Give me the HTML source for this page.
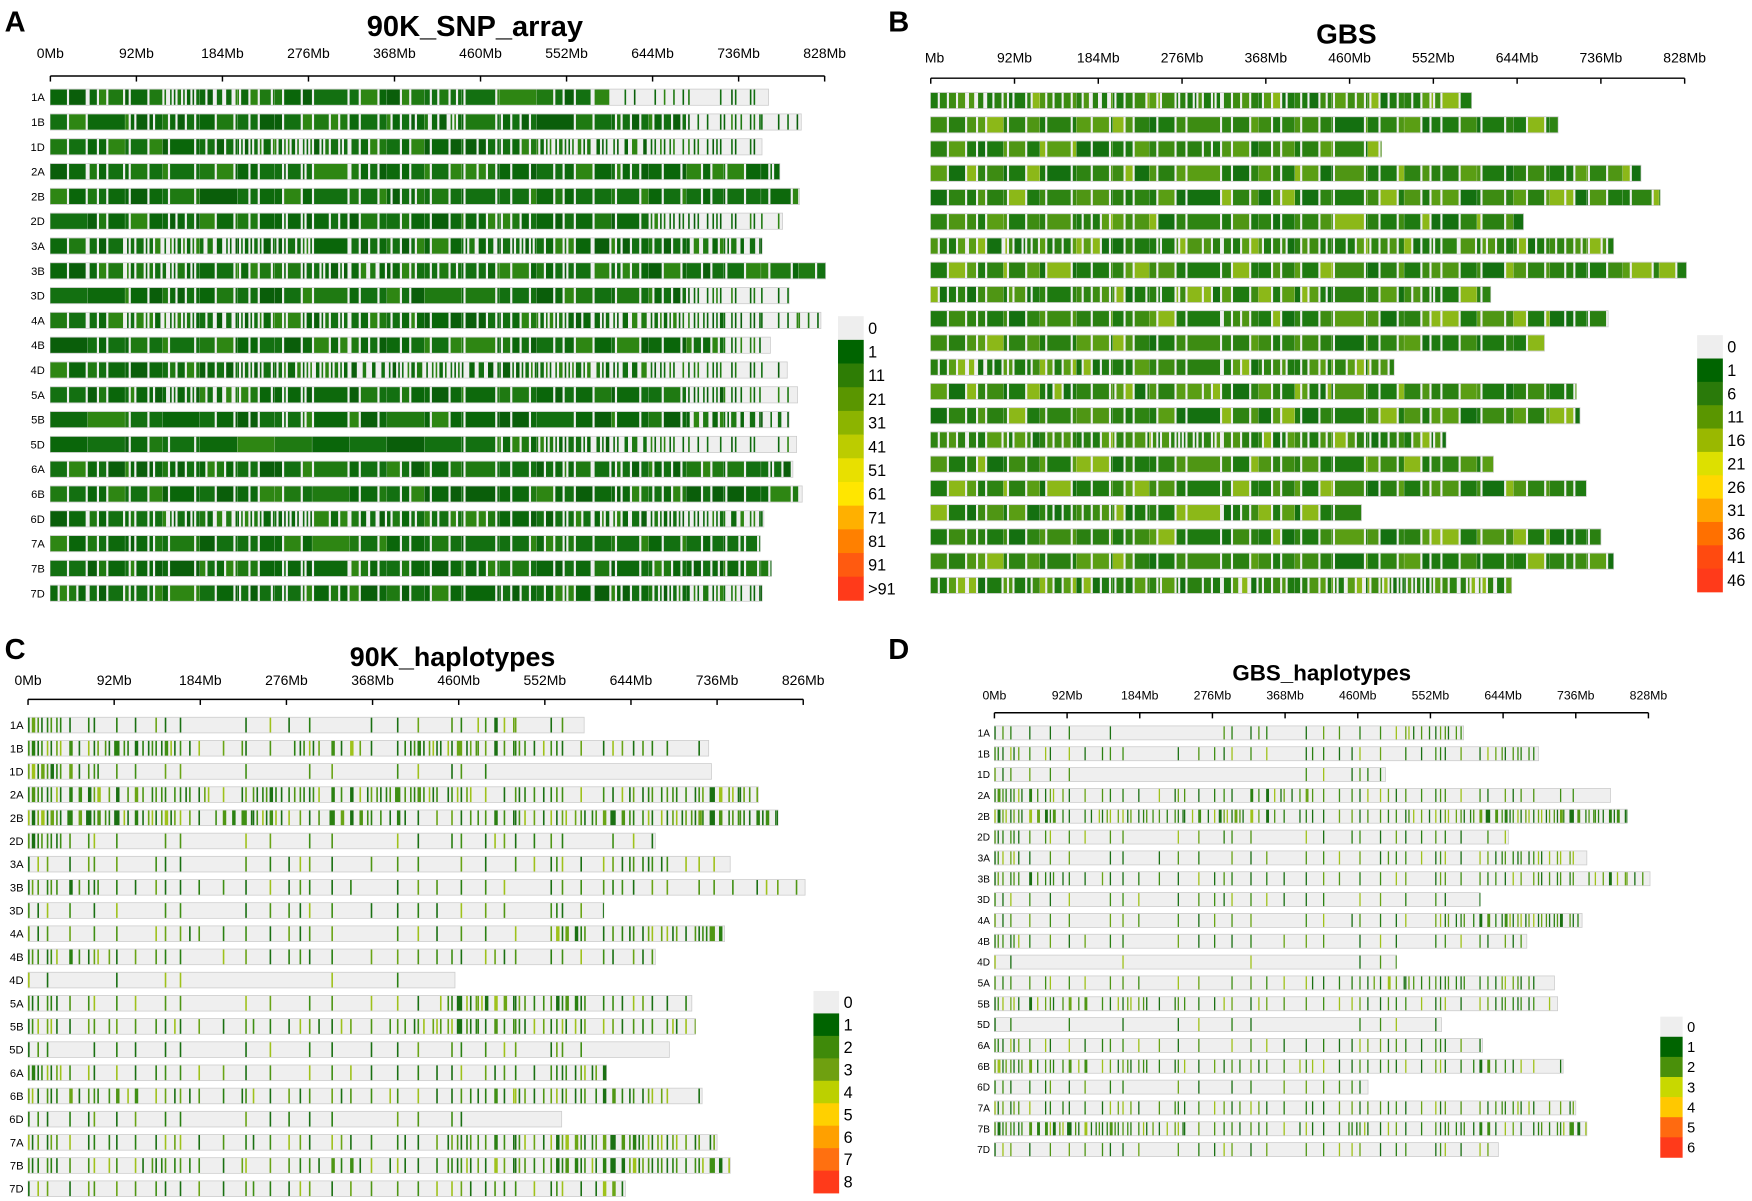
<!DOCTYPE html>
<html><head><meta charset="utf-8">
<style>html,body{margin:0;padding:0;background:#fff}svg{display:block}text{font-family:"Liberation Sans",Arial,sans-serif}</style>
</head><body>
<svg id="fig" xmlns="http://www.w3.org/2000/svg" width="1752" height="1201" viewBox="0 0 1568 1075">
<defs><clipPath id="clipB"><rect x="828" y="0" width="740" height="560"/></clipPath></defs>
<text x="4" y="28" font-size="26" font-weight="bold">A</text>
<text x="795" y="28" font-size="26" font-weight="bold">B</text>
<text x="4" y="590" font-size="26" font-weight="bold">C</text>
<text x="795" y="590" font-size="26" font-weight="bold">D</text>
<text x="425" y="32" font-size="26" font-weight="bold" text-anchor="middle">90K_SNP_array</text>
<text x="1205" y="39" font-size="25" font-weight="bold" text-anchor="middle">GBS</text>
<text x="405" y="596" font-size="24" font-weight="bold" text-anchor="middle">90K_haplotypes</text>
<text x="1183" y="609" font-size="20" font-weight="bold" text-anchor="middle">GBS_haplotypes</text>
<g id="pA"></g>
<g id="pB" clip-path="url(#clipB)"></g>
<g id="pC"></g>
<g id="pD"></g>
</svg>
<script>
const chromosomes = ["1A","1B","1D","2A","2B","2D","3A","3B","3D","4A","4B","4D","5A","5B","5D","6A","6B","6D","7A","7B","7D"];
const tickValues = [0,92,184,276,368,460,552,644,736,828];
const tickLabels = ["0Mb","92Mb","184Mb","276Mb","368Mb","460Mb","552Mb","644Mb","736Mb","828Mb"];
const tickLabelsC = ["0Mb","92Mb","184Mb","276Mb","368Mb","460Mb","552Mb","644Mb","736Mb","826Mb"];
const lengthsReal = [594,689,495,780,801,651,750,830,615,744,674,509,709,713,566,618,720,473,736,750,638];
const lengthsC = [594,727,730,780,801,670,750,830,615,744,670,456,709,713,685,618,720,570,736,750,638];
const lengthsA = [768,803,761,780,801,783,761,829,790,824,770,788,799,790,798,794,804,763,759,771,761];
// density per 40Mb bin (0-9)
const densityA = ["87856788887898712121","89778887876879877232","88887656788775443321","87888878788788878887","88889888878888888888","98878877888778884322","87655668778667777655","876687766777877788888","99878888889888887322","876566767787766554322","98888887788878888731","88877665454565553322","88766778888888888431","99898878898889888653","99889999999876543221","88777888888887777887","88888889888888877888","87766657677787665443","88788889888887888877","88787878788788787777","77788777888877776532"];
const densityB = ["767767767777778","888888888888888888","8888888788888","88888888888888888888","888888888888888888888","88887888888888888","7767787777777777777","888888888888888888888","7878777788788788","8888888878888888888","88888888888888888","7677788877777","888787878878888888","888888888888888888","777777667777777","8888888888888888","888888888888888888","888777887888","8888888888888888888","8888888888888888888","77777777677666667"];
const densityC = ["532211210212421","545533144255443332","6421110111121","55444354455424334455","665535535433444545555","53111111111233112","3312112212111333432","442222222121212322222","3211112212212132","3212322211211253446","443212221222322233","2011100011011","432111111215545333","433322333345444334","312111111212223","5322221122223345","444333323323444442","332111211112","4333223232344455544","4334332343344455545","3322223222233334"];
const densityD = ["321100023121244","432211222132133342","3210000001131","54322332443333323211","553444454333344555555","43211112111223212","4211121121213333443","443222222221223334343","3211212222111212","3211212111122244554","422111211211212233","2000100010012","332121112233444342","444343323223333343","201011111001212","4322221122233332","544343333333333432","332111111222","4333333332333333434","5555443333343344345","3222212221222232"];
const legendALabels = ["0","1","11","21","31","41","51","61","71","81","91",">91"];
const legendBLabels = ["0","1","6","11","16","21","26","31","36","41","46"];
const legendCLabels = ["0","1","2","3","4","5","6","7","8"];
const legendDLabels = ["0","1","2","3","4","5","6"];

const NS="http://www.w3.org/2000/svg";
function mk(tag,attrs,parent){const e=document.createElementNS(NS,tag);for(const k in attrs)e.setAttribute(k,attrs[k]);parent.appendChild(e);return e;}
const perm=[0,10,5,15,2,12,7,17,3,13,8,18,1,11,6,16,4,14,9,19];
const palA=["#0a660a","#137011","#1f7a12","#0a5e0a","#2e8613","#137011","#0d690c"];
const palB=["#1e7a10","#3d8c12","#2a8011","#5a9e14","#147010","#2e8412","#4f9614","#1e7a10","#8cb818"];
const palC=["#1a7012","#3f8f14","#6aa516","#2a8011","#9fc21b","#4f9614","#1a7012"];
const legCols12=["#eeeeee","#006400","#2e7d05","#5a9600","#8cb400","#bccc00","#e8e000","#ffe600","#ffb000","#ff8000","#ff5a10","#ff3a1a"];
const legColsB=["#eeeeee","#006400","#2a7a0a","#5a9600","#9ab800","#dde000","#ffd800","#ffa500","#ff7000","#ff4a10","#ff3a1a"];
const legColsC=["#eeeeee","#006400","#3f8a0a","#6fa010","#bcd000","#ffd000","#ffa000","#ff7010","#ff3a1a"];
const legColsD=["#eeeeee","#006400","#4a900a","#c8d800","#ffc800","#ff6a10","#ff3a1a"];

function slotCount(v,sparse){
  if(!sparse) return Math.min(20,Math.round(v*20/9));
  if(v<=3) return v;
  return Math.min(20,Math.round((v-2)*20/7));
}
function panel(cfg){
  const g=document.getElementById(cfg.id);
  const X=v=>cfg.x0+v*cfg.scale;
  const ax=mk('line',{x1:X(0),x2:X(828),y1:cfg.axisY,y2:cfg.axisY,stroke:'#000','stroke-width':1.3},g);
  
  
  tickValues.forEach((t,i)=>{
    const tl=mk('line',{x1:X(t),x2:X(t),y1:cfg.axisY,y2:cfg.axisY+5,stroke:'#000','stroke-width':1.3},g);
    
    
    const tx=mk('text',{x:X(t),y:cfg.labelY,'font-size':cfg.tickFont,'text-anchor':'middle'},g);
    
    
    tx.textContent=cfg.ticks[i];
  });
  chromosomes.forEach((c,i)=>{
    const cy=cfg.row0+i*cfg.dy, y=cy-cfg.h/2, len=cfg.lengths[i];
    const bar=mk('rect',{x:X(0),y:y,width:len*cfg.scale,height:cfg.h,fill:'#efefef',stroke:'#cccccc','stroke-width':0.7},g);
    
    
    if(cfg.rowLabels){
      const lt=mk('text',{x:cfg.labelX,y:cy+cfg.rowFont*0.36,'font-size':cfg.rowFont,'text-anchor':'end'},g);
      
      
      lt.textContent=c;
    }
    const d=cfg.density[i];
    for(let b=0;b<d.length;b++){
      const v=+d[b]; if(!v) continue;
      const n=slotCount(v,cfg.sparse);
      const filled=new Array(20).fill(false);
      for(let k=0;k<n;k++) filled[perm[(k+b*3)%20]]=true;
      let s=0;
      while(s<20){
        if(!filled[s]){s++;continue;}
        let e=s; while(e<20&&filled[e]) e++;
        const m0=b*40+s*2, m1=Math.min(len,b*40+e*2);
        if(m1>m0){
          const col=cfg.pal[(b*5+s+i)%cfg.pal.length];
          const r=mk('rect',{x:X(m0),y:y+0.4,width:Math.max(0.9,(m1-m0)*cfg.scale-0.25),height:cfg.h-0.8,fill:col},g);
          
          
        }
        s=e;
      }
    }
  });
  const L=cfg.legend;
  L.labels.forEach((lab,i)=>{
    const r=mk('rect',{x:L.x,y:L.y+i*L.step,width:L.w,height:L.step+0.3,fill:L.cols[i]},g.parentNode);
    
    
    const t=mk('text',{x:L.x+L.w+4,y:L.y+i*L.step+L.step*0.5+L.font*0.36,'font-size':L.font},g.parentNode);
    
    
    t.textContent=lab;
  });
}
panel({id:'pA',x0:45,scale:0.837,axisY:68,labelY:52,tickFont:12.5,row0:87,dy:22.2,h:14.5,rowLabels:true,labelX:40,rowFont:10,lengths:lengthsA,density:densityA,pal:palA,ticks:tickLabels,sparse:false,
  legend:{x:750,y:283,w:23,step:21.2,font:14.5,labels:legendALabels,cols:legCols12}});
panel({id:'pB',x0:833,scale:0.815,axisY:70,labelY:56,tickFont:12.5,row0:90,dy:21.7,h:14.5,rowLabels:false,lengths:lengthsReal,density:densityB,pal:palB,ticks:tickLabels,sparse:false,
  legend:{x:1519,y:300,w:23,step:20.9,font:14.5,labels:legendBLabels,cols:legColsB}});
panel({id:'pC',x0:25,scale:0.838,axisY:626,labelY:613,tickFont:12.5,row0:649,dy:20.75,h:14,rowLabels:true,labelX:21,rowFont:10,lengths:lengthsC,density:densityC,pal:palC,ticks:tickLabelsC,sparse:true,
  legend:{x:728,y:887,w:23,step:20.1,font:14.5,labels:legendCLabels,cols:legColsC}});
panel({id:'pD',x0:890,scale:0.707,axisY:638,labelY:626,tickFont:11,row0:656,dy:18.65,h:12.5,rowLabels:true,labelX:886,rowFont:9,lengths:lengthsReal,density:densityD,pal:palC,ticks:tickLabels,sparse:true,
  legend:{x:1486,y:910,w:20,step:18,font:13,labels:legendDLabels,cols:legColsD}});
</script>
</body></html>
